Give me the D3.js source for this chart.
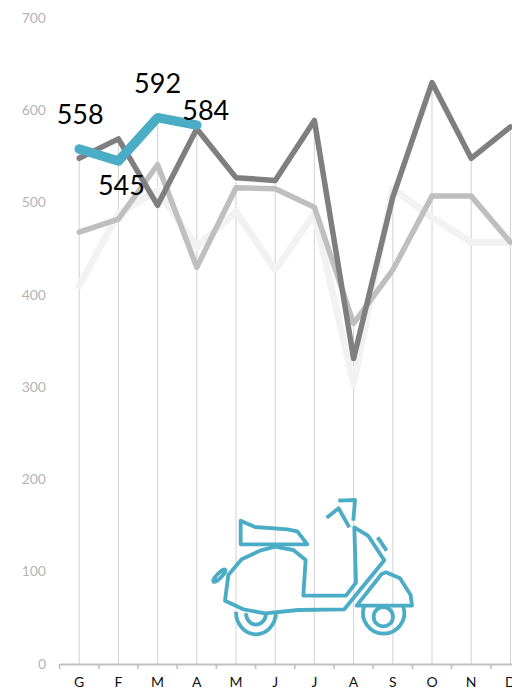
<!DOCTYPE html>
<html><head><meta charset="utf-8">
<script src="https://cdn.jsdelivr.net/npm/d3@7"></script>
<style>html,body{margin:0;padding:0;background:#fff;overflow:hidden}svg{display:block}text{font-family:Lato,"Open Sans",sans-serif}</style>
</head><body><svg id="c" width="512" height="690"></svg>
<script>
const months = ["G","F","M","A","M","J","J","A","S","O","N","D"];
const yTicks = [0,100,200,300,400,500,600,700];
const lightest = [410,488,513,452,490,427,488,304,515,484,457,457];
const middle = [468,482,541,430,516,515,495,369,427,507,507,457];
const dark = [548,569,497,580,527,524,589,331,506,630,548,582];
const current = [558,545,592,584];
const labelOffsets = [[1,-25],[3,34],[0,-25],[9,-5]];

const svg = d3.select("#c");
const idx = months.map((_, i) => i);
const x = d3.scaleBand().domain(idx).range([59.6, 530]);
const y = d3.scaleLinear().domain([0,700]).range([664,18]);
const cx = i => x(i) + x.bandwidth()/2;

// drop lines
svg.append("g").selectAll("line").data(idx).join("line")
  .attr("x1", cx).attr("x2", cx)
  .attr("y1", i => y(Math.max(lightest[i], middle[i], dark[i], current[i] ?? 0)))
  .attr("y2", y(0))
  .attr("stroke", "#d9d9d9").attr("stroke-width", 1.2);

// y axis labels
const yA = svg.append("g").attr("transform","translate(46,0)")
  .call(d3.axisLeft(y).tickValues(yTicks).tickSize(0).tickPadding(0));
yA.select(".domain").remove();
yA.selectAll("text").attr("fill","#b5b5b5").style("font-size","14px").attr("dy","0.3em");

// x axis
const xA = svg.append("g").attr("transform",`translate(0,${y(0)})`)
  .call(d3.axisBottom(x).tickFormat(i => months[i]).tickSize(0).tickPadding(13));
xA.select(".domain").attr("stroke","#bfbfbf").attr("stroke-width",2);
xA.selectAll("text").attr("fill","#111").style("font-size","14px");
xA.append("g").selectAll("line").data(d3.range(0, months.length+1)).join("line")
  .attr("x1", d => x.range()[0] + d*x.step()).attr("x2", d => x.range()[0] + d*x.step())
  .attr("y1",0).attr("y2",5).attr("stroke","#bfbfbf").attr("stroke-width",1.6);

const line = d3.line().x((d,i)=>cx(i)).y(d=>y(d));
const draw = (data,color,w,cap) => svg.append("path").attr("d",line(data)).attr("fill","none")
  .attr("stroke",color).attr("stroke-width",w).attr("stroke-linejoin","round").attr("stroke-linecap",cap);
draw(lightest,"#f2f2f2",7,"round");
draw(middle,"#bfbfbf",5.5,"round");
draw(dark,"#7f7f7f",5.5,"round");
draw(current,"#4bacc6",9.5,"round");

// value labels
svg.append("g").selectAll("text").data(current).join("text")
  .attr("x",(d,i)=>cx(i)+labelOffsets[i][0]).attr("y",(d,i)=>y(d)+labelOffsets[i][1])
  .attr("text-anchor","middle").attr("fill","#000").style("font-size","27px")
  .text(d=>d);

// scooter icon
const icon = svg.append("g").attr("transform","translate(200,480) scale(0.3333)")
  .attr("fill","none").attr("stroke","#4bacc6").attr("stroke-width",11.5).attr("stroke-linejoin","round");
[
 "M122,122 L122,193 L322,193 L292,154 L262,148 L165,141 Z",
 "M75,362 L85,285 L125,238 L180,212 L225,200 L280,210 L317,240 L310,347 L438,347 L468,308 L463,142 L505,168 L553,241 L433,388 L295,390 L195,400 L130,388 Z",
 "M470,377 L545,282 L558,277 L600,295 L632,345 L636,377 Z",
 "M108,395 A60,68 0 0 0 228,395",
 "M138,400 A30,34 0 0 0 198,400",
 "M492,380 A62,62 0 1 0 610,380",
 "M380,113 L416,85 L448,142",
 "M415,62 L465,60 L460,122",
 "M533,172 L560,212"
].forEach(d => icon.append("path").attr("d",d));
icon.append("circle").attr("cx",550).attr("cy",410).attr("r",29);
icon.append("ellipse").attr("cx",58).attr("cy",287).attr("rx",25).attr("ry",7).attr("transform","rotate(-45 58 287)");
</script></body></html>
